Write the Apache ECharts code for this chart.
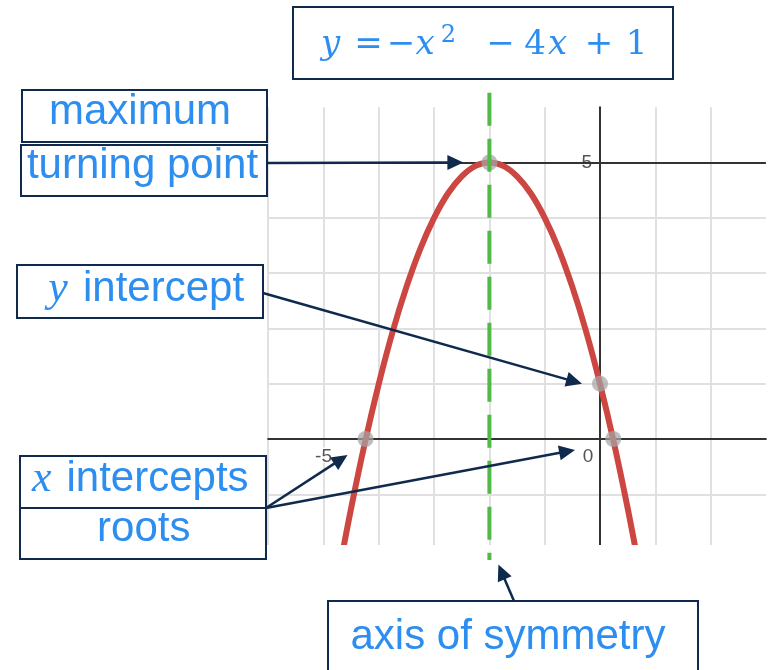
<!DOCTYPE html>
<html>
<head>
<meta charset="utf-8">
<script src="https://cdn.jsdelivr.net/npm/echarts@6/dist/echarts.min.js"></script>
<style>
  html, body { margin: 0; padding: 0; background: #fff; }
  #main { width: 769px; height: 670px; }
</style>
</head>
<body>
<div id="main"></div>
<script>
// data: y = -x^2 - 4x + 1
var curveX = [-4.75, -4.5, -4.25, -4, -3.75, -3.5, -3.25, -3, -2.75, -2.5, -2.25, -2,
              -1.75, -1.5, -1.25, -1, -0.75, -0.5, -0.25, 0, 0.25, 0.5, 0.75];
var curveY = [-2.56, -1.25, -0.06, 1, 1.94, 2.75, 3.44, 4, 4.44, 4.75, 4.94, 5,
              4.94, 4.75, 4.44, 4, 3.44, 2.75, 1.94, 1, -0.06, -1.25, -2.56];
var turningPoint = [-2, 5];
var yIntercept = [0, 1];
var rootsX = [-4.24, 0.24];
var symmetryX = -2;
var symmetryY = [6.26, -2.19];
var xTickLabels = [-5, 0];
var yTickLabels = [5];
var majorLineY = 5;
var xRange = [-6, 3];
var yRange = [-2, 6];

var blue = '#2d8ef0';
var navy = '#0f2a4d';
var sans = '"Liberation Sans", Arial, sans-serif';
var serif = '"Liberation Serif", "Times New Roman", serif';
var mathSerif = '"DejaVu Serif", serif';

var myChart = echarts.init(document.getElementById('main'));

var curveData = curveX.map(function (x, i) { return [x, curveY[i]]; });
var keyPoints = [turningPoint, yIntercept, [rootsX[0], 0], [rootsX[1], 0]];

var tickLabel = {
  fontSize: 19,
  fontFamily: sans,
  color: '#555',
  textBorderColor: '#fff',
  textBorderWidth: 3
};

var option = {
  animation: false,
  grid: { left: 268.2, top: 107.2, width: 497.7, height: 442.4, outerBoundsMode: 'none' },
  xAxis: {
    type: 'value', min: xRange[0], max: xRange[1], interval: 1,
    axisLine: { onZero: false, lineStyle: { color: '#333', width: 2 } },
    axisTick: { show: false },
    axisLabel: Object.assign({
      customValues: xTickLabels,
      margin: 8,
      formatter: function (v) { return v === 0 ? '{o|0}' : String(v); },
      rich: { o: Object.assign({ padding: [0, 24, 0, 0] }, tickLabel) }
    }, tickLabel),
    splitLine: { showMaxLine: false, lineStyle: { color: '#e0e0e0', width: 2 } }
  },
  yAxis: {
    type: 'value', min: yRange[0], max: yRange[1], interval: 1,
    axisLine: { onZero: false, lineStyle: { color: '#333', width: 2 } },
    axisTick: { show: false },
    axisLabel: Object.assign({ customValues: yTickLabels, margin: 8 }, tickLabel),
    splitLine: { showMaxLine: false, showMinLine: false, lineStyle: { color: '#e0e0e0', width: 2 } }
  },
  series: [
    {
      type: 'line',
      data: curveData,
      smooth: 0.4,
      showSymbol: false,
      z: 3,
      lineStyle: { color: '#cc4642', width: 6 },
      markLine: {
        silent: true, symbol: 'none', z: 1,
        label: { show: false },
        lineStyle: { color: '#333', width: 2, type: 'solid' },
        data: [{ yAxis: majorLineY }]
      }
    },
    {
      type: 'scatter',
      data: keyPoints,
      symbolSize: 16,
      z: 4,
      itemStyle: { color: 'rgba(165,165,165,0.9)' }
    },
    {
      type: 'line',
      data: [[symmetryX, symmetryY[0]], [symmetryX, symmetryY[1]]],
      clip: false,
      showSymbol: false,
      z: 20,
      lineStyle: { color: '#52b848', width: 4, type: [33, 13] }
    }
  ]
};

myChart.setOption(option);

function px(pt, off) {
  var p = myChart.convertToPixel({ gridIndex: 0 }, pt);
  off = off || [0, 0];
  return [p[0] + off[0], p[1] + off[1]];
}

// move both axes (line + labels) onto the zero lines, Desmos style
var origin = px([0, 0]);
var corner = px([xRange[0], yRange[0]]);
myChart.setOption({
  xAxis: { offset: -(corner[1] - origin[1]) },
  yAxis: { offset: -(origin[0] - corner[0]) }
});

// annotation boxes and arrows
function box(x, y, w, h) {
  return { type: 'rect', z: 25, silent: true, shape: { x: x, y: y, width: w, height: h },
           style: { fill: '#fff', stroke: navy, lineWidth: 2 } };
}
function label(text, x, y, font, align) {
  return { type: 'text', z: 26, silent: true,
           style: { text: text, x: x, y: y, font: font, fill: blue, align: align || 'center', verticalAlign: 'middle' } };
}
function arrow(p0, p1) {
  var dx = p1[0] - p0[0], dy = p1[1] - p0[1];
  var len = Math.sqrt(dx * dx + dy * dy), ux = dx / len, uy = dy / len;
  var hl = 16, hw = 7.5;
  var bx = p1[0] - ux * hl, by = p1[1] - uy * hl;
  return [
    { type: 'line', z: 30, silent: true,
      shape: { x1: p0[0], y1: p0[1], x2: bx + ux * 2, y2: by + uy * 2 },
      style: { stroke: navy, lineWidth: 2.5 } },
    { type: 'polygon', z: 30, silent: true,
      shape: { points: [p1, [bx - uy * hw, by + ux * hw], [bx + uy * hw, by - ux * hw]] },
      style: { fill: navy } }
  ];
}

var labelFont = '42px ' + sans;
var mathFont = 'italic 44px ' + serif;
var eqVar = 'italic 34px ' + mathSerif;
var eqNum = '34px ' + mathSerif;

var elements = [
  // white strip that trims the plot bottom
  { type: 'rect', z: 10, silent: true, shape: { x: 262, y: 545, width: 507, height: 8 }, style: { fill: '#fff' } },

  box(293, 7, 380, 72),
  box(22, 90, 245, 52),
  box(21, 145, 246, 51),
  box(17, 265, 246, 53),
  box(20, 456, 246, 52),
  box(20, 508, 246, 51),
  box(328, 601, 370, 80),

  label('maximum', 140, 112.5, labelFont),
  label('turning point', 142.5, 166, labelFont),
  label('y', 58, 289, mathFont),
  label('intercept', 83, 289, labelFont, 'left'),
  label('x', 41.7, 479, mathFont),
  label('intercepts', 66.5, 479, labelFont, 'left'),
  label('roots', 143.8, 529, labelFont),
  label('axis of symmetry', 508, 637.5, labelFont)
];

// equation y = −x² − 4x + 1
var eqTokens = [
  ['y', 330.5, eqVar], ['=', 368.5, eqNum], ['\u2212', 401, eqNum], ['x', 425, eqVar],
  ['\u2212', 500.5, eqNum], ['4', 535, eqNum], ['x', 557.5, eqVar], ['+', 599, eqNum], ['1', 636.5, eqNum]
];
eqTokens.forEach(function (t) { elements.push(label(t[0], t[1], 45, t[2])); });
elements.push(label('2', 448.5, 36, '24px ' + mathSerif));

elements = elements
  .concat(arrow([267, 163], px(turningPoint, [-26, 0])))
  .concat(arrow([263, 293], px(yIntercept, [-18, 0])))
  .concat(arrow([266, 508], px([rootsX[0], 0], [-18, 16])))
  .concat(arrow([266, 508], px([0, 0], [-25, 11])))
  .concat(arrow([514, 601], px([symmetryX, -2], [9, 15])));

myChart.setOption({ graphic: { elements: elements } });
</script>
</body>
</html>
